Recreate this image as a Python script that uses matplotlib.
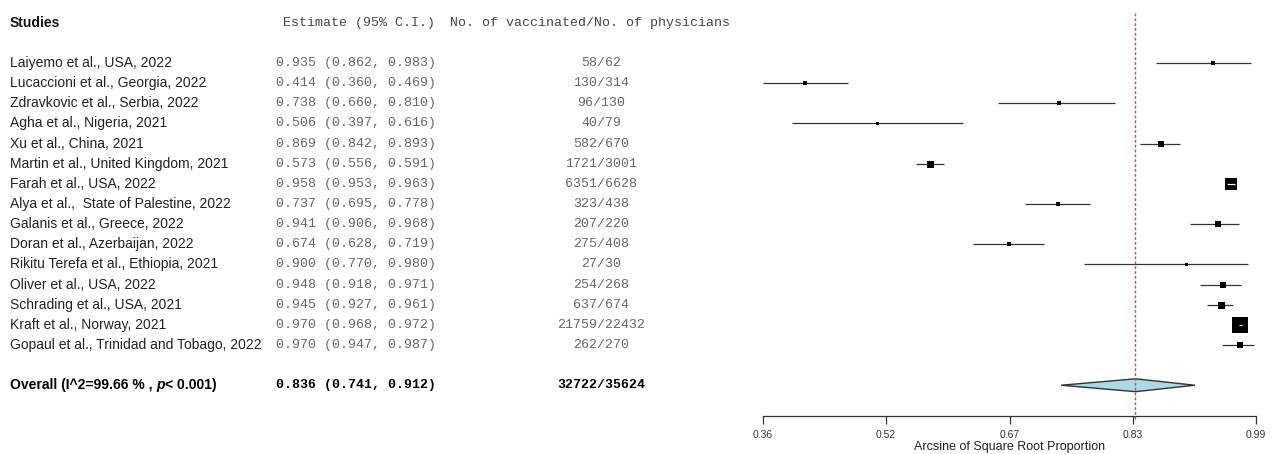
import matplotlib
matplotlib.use("Agg")
import matplotlib.pyplot as plt
import matplotlib.transforms as mtransforms
from matplotlib.patches import Polygon
import numpy as np

# ---------------- data ----------------
studies = [
    "Laiyemo et al., USA, 2022",
    "Lucaccioni et al., Georgia, 2022",
    "Zdravkovic et al., Serbia, 2022",
    "Agha et al., Nigeria, 2021",
    "Xu et al., China, 2021",
    "Martin et al., United Kingdom, 2021",
    "Farah et al., USA, 2022",
    "Alya et al.,  State of Palestine, 2022",
    "Galanis et al., Greece, 2022",
    "Doran et al., Azerbaijan, 2022",
    "Rikitu Terefa et al., Ethiopia, 2021",
    "Oliver et al., USA, 2022",
    "Schrading et al., USA, 2021",
    "Kraft et al., Norway, 2021",
    "Gopaul et al., Trinidad and Tobago, 2022",
]
estimate = [0.935, 0.414, 0.738, 0.506, 0.869, 0.573, 0.958, 0.737, 0.941, 0.674, 0.900, 0.948, 0.945, 0.970, 0.970]
ci_low   = [0.862, 0.360, 0.660, 0.397, 0.842, 0.556, 0.953, 0.695, 0.906, 0.628, 0.770, 0.918, 0.927, 0.968, 0.947]
ci_high  = [0.983, 0.469, 0.810, 0.616, 0.893, 0.591, 0.963, 0.778, 0.968, 0.719, 0.980, 0.971, 0.961, 0.972, 0.987]
vaccinated = [58, 130, 96, 40, 582, 1721, 6351, 323, 207, 275, 27, 254, 637, 21759, 262]
physicians = [62, 314, 130, 79, 670, 3001, 6628, 438, 220, 408, 30, 268, 674, 22432, 270]
# relative study weight
weight_rel = [4, 5, 4.5, 3, 6, 7, 12, 5, 5.5, 5, 3, 5.5, 7, 16, 6]

overall_est, overall_lo, overall_hi = 0.836, 0.741, 0.912
overall_vacc, overall_phys = 32722, 35624
overall_label = "Overall (I^2=99.66 % , "
overall_p = "< 0.001)"

tick_labels = ["0.36", "0.52", "0.67", "0.83", "0.99"]
x_axis_label = "Arcsine of Square Root Proportion"

# ---------------- layout ----------------
W, H = 1274, 454
fig = plt.figure(figsize=(W / 100, H / 100), dpi=100)

ax_left_px, ax_right_px = 763, 1256
ax_bottom_px = 416          # axis line position (from top)
ax = fig.add_axes([ax_left_px / W, 1 - ax_bottom_px / H,
                   (ax_right_px - ax_left_px) / W, ax_bottom_px / H])
xmin, xmax = 0.36, 0.99
ax.set_xlim(xmin, xmax)
row_px = 20.14
first_row_px = 63
ax.set_ylim((ax_bottom_px - first_row_px) / row_px, -first_row_px / row_px)

n = len(studies)
rows = np.arange(n)
overall_row = n + 1
header_row = -2

# data units per pixel
px_to_data = (xmax - xmin) / (ax_right_px - ax_left_px)

# study CIs and boxes
for i in range(n):
    ax.plot([ci_low[i], ci_high[i]], [rows[i], rows[i]], color="#333333", lw=0.9,
            zorder=1, clip_on=False, solid_capstyle="butt")
    ax.plot(estimate[i], rows[i], marker="s", ms=weight_rel[i] * 0.72, color="black",
            mec="black", mew=0, zorder=2, clip_on=False, linestyle="none")
    if (ci_high[i] - ci_low[i]) < weight_rel[i] * px_to_data:
        ax.plot([ci_low[i], ci_high[i]], [rows[i], rows[i]], color="white", lw=0.9,
                zorder=3, clip_on=False, solid_capstyle="butt")

# overall diamond
h = 0.32
diamond = Polygon([[overall_lo, overall_row], [overall_est, overall_row - h],
                   [overall_hi, overall_row], [overall_est, overall_row + h]],
                  closed=True, facecolor="#add8e6", edgecolor="#333333", lw=1.0,
                  zorder=2, clip_on=False)
ax.add_patch(diamond)

# reference line
ax.plot([overall_est, overall_est], [-2.5, (ax_bottom_px + 4 - first_row_px) / row_px],
        color="#d04848", lw=1.0, linestyle=(0, (2.0, 1.5)), zorder=3, clip_on=False)

# axes styling
for s in ["top", "right", "left"]:
    ax.spines[s].set_visible(False)
ax.spines["bottom"].set_bounds(xmin, xmax)
ax.spines["bottom"].set_linewidth(0.9)
ax.spines["bottom"].set_color("#333333")
ax.set_yticks([])
ax.set_xticks(np.linspace(xmin, xmax, len(tick_labels)))
ax.set_xticklabels(tick_labels, fontsize=7.5, color="#333333", family="Liberation Sans")
ax.tick_params(axis="x", direction="out", length=6, width=0.9, color="#333333", pad=4)
ax.set_xlabel(x_axis_label, fontsize=9, family="Liberation Sans", color="#222222", labelpad=1)
ax.patch.set_visible(False)

# ---------------- text columns ----------------
tr = mtransforms.blended_transform_factory(fig.transFigure, ax.transData)
x_study = 10 / W
x_est = 276 / W
x_cnt = 601 / W
sans = "Liberation Sans"
mono = "Liberation Mono"
fs = 10
fm = 9.5

ax.text(x_study, header_row, "Studies", transform=tr, fontsize=fs, fontweight="bold",
        family=sans, va="center", ha="left", color="#111111")
ax.text(283 / W, header_row, "Estimate (95% C.I.)", transform=tr, fontsize=fm,
        family=mono, va="center", ha="left", color="#444444")
ax.text(450 / W, header_row, "No. of vaccinated/No. of physicians", transform=tr,
        fontsize=fm, family=mono, va="center", ha="left", color="#444444")

for i in range(n):
    ax.text(x_study, rows[i], studies[i], transform=tr, fontsize=fs, family=sans,
            va="center", ha="left", color="#222222")
    ax.text(x_est, rows[i], f"{estimate[i]:.3f} ({ci_low[i]:.3f}, {ci_high[i]:.3f})",
            transform=tr, fontsize=fm, family=mono, va="center", ha="left", color="#666666")
    ax.text(x_cnt, rows[i], f"{vaccinated[i]}/{physicians[i]}", transform=tr, fontsize=fm,
            family=mono, va="center", ha="center", color="#666666")

t1 = ax.text(x_study, overall_row, overall_label, transform=tr, fontsize=fs,
             fontweight="bold", family=sans, va="center", ha="left", color="black")
t2 = ax.annotate("p", xy=(1, 0), xycoords=t1, fontsize=fs, fontweight="bold",
                 fontstyle="italic", family=sans, va="bottom", ha="left", color="black")
ax.annotate(overall_p, xy=(1, 0), xycoords=t2, fontsize=fs, fontweight="bold",
            family=sans, va="bottom", ha="left", color="black")
ax.text(x_est, overall_row, f"{overall_est:.3f} ({overall_lo:.3f}, {overall_hi:.3f})",
        transform=tr, fontsize=fm, family=mono, fontweight="bold", va="center",
        ha="left", color="black")
ax.text(x_cnt, overall_row, f"{overall_vacc}/{overall_phys}", transform=tr, fontsize=fm,
        family=mono, fontweight="bold", va="center", ha="center", color="black")

fig.savefig("out.png", dpi=100, facecolor="white")
